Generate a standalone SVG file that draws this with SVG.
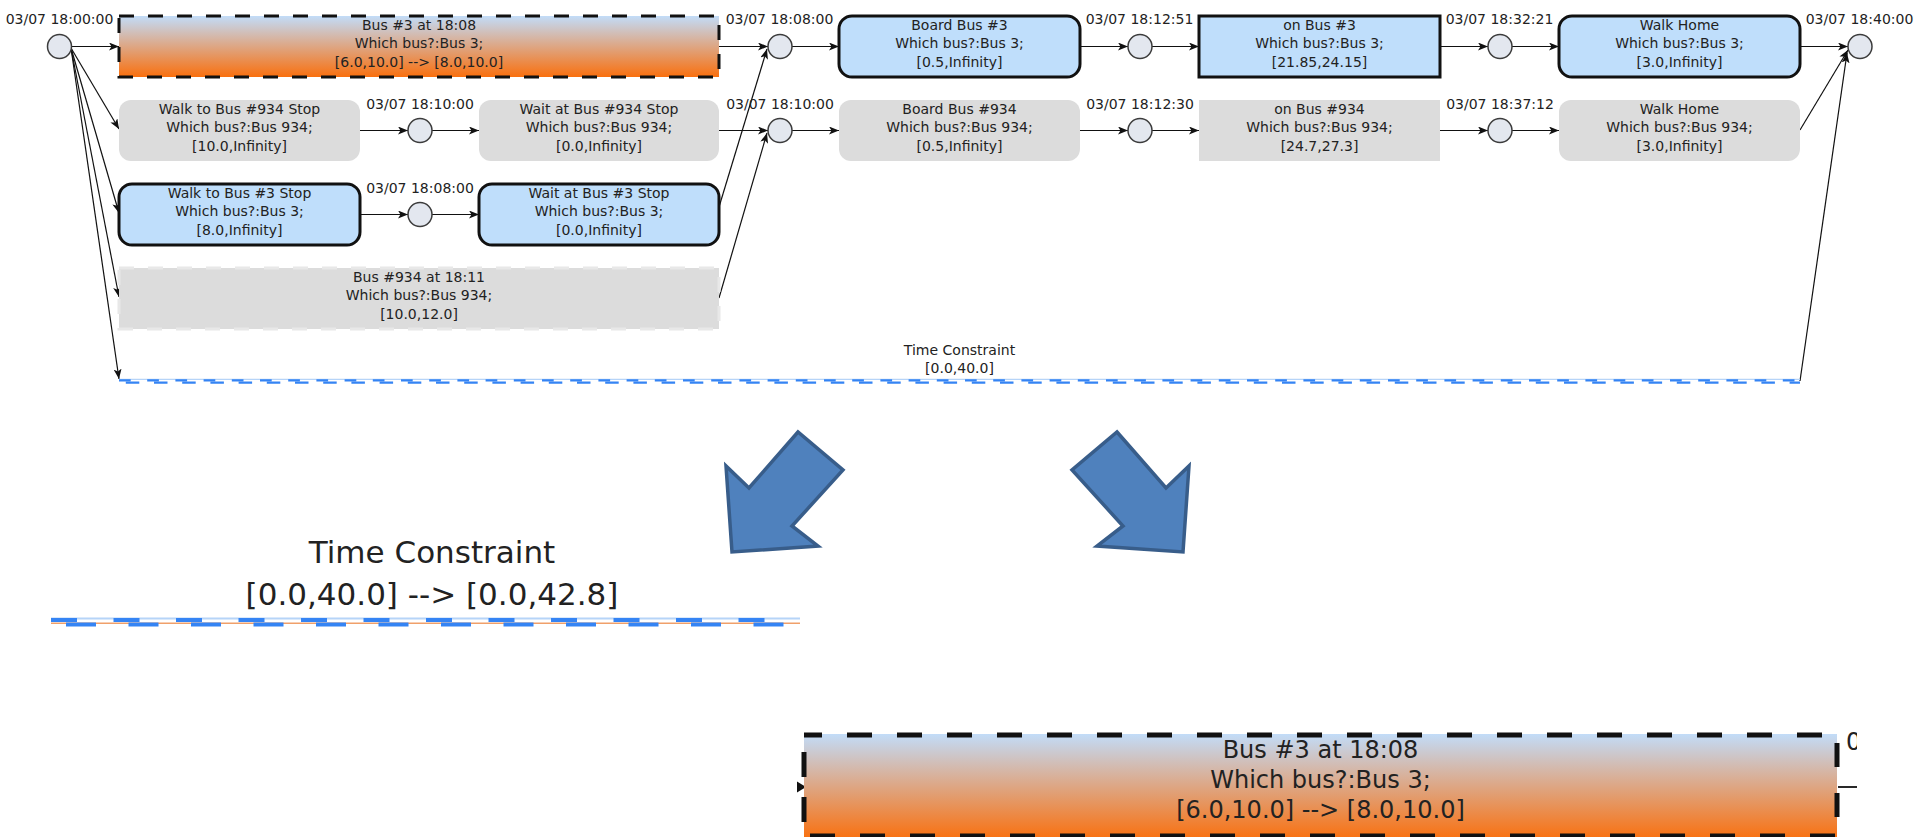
<svg xmlns="http://www.w3.org/2000/svg" width="1915" height="837" viewBox="0 0 1915 837">
<style>
text{font-family:"DejaVu Sans","Liberation Sans",sans-serif;fill:#222;text-anchor:middle}
.t14{font-size:14px}
.blue{fill:#bfdefb;stroke:#111;stroke-width:3}
.grey{fill:#dcdcdc}
.ev{fill:#e3e7ef;stroke:#3c3c3c;stroke-width:1.5}
.conn line{stroke:#111;stroke-width:1.2;marker-end:url(#arr)}
.big{fill:#4f81bd;stroke:#385d8a;stroke-width:3.5;stroke-linejoin:miter}
.dashB{stroke:#3584f4;fill:none}
.edge{stroke:#111;stroke-width:5;fill:none;stroke-dasharray:25 25}
</style>
<defs>
  <linearGradient id="busGrad" x1="0" y1="0" x2="0" y2="1">
    <stop offset="0" stop-color="#c2dcf8"/>
    <stop offset="1" stop-color="#f9700f"/>
  </linearGradient>
  <marker id="arr" markerUnits="userSpaceOnUse" viewBox="0 0 10 8" refX="10" refY="4" markerWidth="10" markerHeight="8" orient="auto">
    <path d="M0,0 L10,4 L0,8 L2.5,4 z" fill="#111"/>
  </marker>
  <clipPath id="cutRight"><rect x="1840" y="720" width="17" height="40"/></clipPath>
  <path id="bigArrow" d="M1117,432 L1166,488 L1189,466 L1183,552 L1097,546 L1123,526 L1072,470 Z"/>
</defs>
<rect width="1915" height="837" fill="#fff"/>

<!-- connectors -->
<g id="connectors" class="conn">
  <line x1="71.5" y1="46.5" x2="119" y2="46.5"/>
  <line x1="719" y1="46.5" x2="768" y2="46.5"/>
  <line x1="792" y1="46.5" x2="839" y2="46.5"/>
  <line x1="1080" y1="46.5" x2="1128" y2="46.5"/>
  <line x1="1152" y1="46.5" x2="1199" y2="46.5"/>
  <line x1="1440" y1="46.5" x2="1488" y2="46.5"/>
  <line x1="1512" y1="46.5" x2="1559" y2="46.5"/>
  <line x1="1800" y1="46.5" x2="1848" y2="46.5"/>

  <line x1="71" y1="48" x2="119" y2="129"/>
  <line x1="360" y1="130.5" x2="408" y2="130.5"/>
  <line x1="432" y1="130.5" x2="479" y2="130.5"/>
  <line x1="719" y1="130.5" x2="768" y2="130.5"/>
  <line x1="792" y1="130.5" x2="839" y2="130.5"/>
  <line x1="1080" y1="130.5" x2="1128" y2="130.5"/>
  <line x1="1152" y1="130.5" x2="1199" y2="130.5"/>
  <line x1="1440" y1="130.5" x2="1488" y2="130.5"/>
  <line x1="1512" y1="130.5" x2="1559" y2="130.5"/>
  <line x1="1800" y1="130" x2="1848" y2="50"/>

  <line x1="71" y1="48" x2="119" y2="213"/>
  <line x1="360" y1="214.5" x2="408" y2="214.5"/>
  <line x1="432" y1="214.5" x2="479" y2="214.5"/>
  <line x1="719" y1="207" x2="767" y2="49"/>

  <line x1="71" y1="48" x2="119" y2="297"/>
  <line x1="719" y1="298" x2="767" y2="133"/>

  <line x1="71" y1="48" x2="119" y2="379"/>
  <line x1="1800" y1="381" x2="1847" y2="53"/>

  <!-- connector stubs at the enlarged box -->
  <polygon points="797,781.5 806,787 797,792.5" fill="#111"/>
  <path d="M1838,787 H1857" stroke="#111" stroke-width="1.8"/>
</g>

<!-- events -->
<g id="ev-start"><circle class="ev" cx="59.5" cy="46.5" r="12"/><text class="t14" x="59.5" y="24">03/07 18:00:00</text></g>
<g id="ev-1808-a"><circle class="ev" cx="780" cy="46.5" r="12"/><text class="t14" x="779.5" y="24">03/07 18:08:00</text></g>
<g id="ev-1812-51"><circle class="ev" cx="1140" cy="46.5" r="12"/><text class="t14" x="1139.5" y="24">03/07 18:12:51</text></g>
<g id="ev-1832-21"><circle class="ev" cx="1500" cy="46.5" r="12"/><text class="t14" x="1499.5" y="24">03/07 18:32:21</text></g>
<g id="ev-end"><circle class="ev" cx="1860" cy="46.5" r="12"/><text class="t14" x="1859.5" y="24">03/07 18:40:00</text></g>
<g id="ev-1810-a"><circle class="ev" cx="420" cy="130.5" r="12"/><text class="t14" x="420" y="109">03/07 18:10:00</text></g>
<g id="ev-1810-b"><circle class="ev" cx="780" cy="130.5" r="12"/><text class="t14" x="780" y="109">03/07 18:10:00</text></g>
<g id="ev-1812-30"><circle class="ev" cx="1140" cy="130.5" r="12"/><text class="t14" x="1140" y="109">03/07 18:12:30</text></g>
<g id="ev-1837-12"><circle class="ev" cx="1500" cy="130.5" r="12"/><text class="t14" x="1500" y="109">03/07 18:37:12</text></g>
<g id="ev-1808-b"><circle class="ev" cx="420" cy="214.5" r="12"/><text class="t14" x="420" y="193">03/07 18:08:00</text></g>

<!-- activities, bus 3 route -->
<g id="bus3-at-1808">
  <rect x="119" y="16" width="600" height="61" fill="url(#busGrad)" stroke="#111" stroke-width="3" stroke-dasharray="15 14"/>
  <text class="t14" x="419" y="30">Bus #3 at 18:08</text>
  <text class="t14" x="419" y="48">Which bus?:Bus 3;</text>
  <text class="t14" x="419" y="67">[6.0,10.0] --&gt; [8.0,10.0]</text>
</g>
<g id="board-bus3">
  <rect class="blue" x="839" y="16" width="241" height="61" rx="13"/>
  <text class="t14" x="959.5" y="30">Board Bus #3</text>
  <text class="t14" x="959.5" y="48">Which bus?:Bus 3;</text>
  <text class="t14" x="959.5" y="67">[0.5,Infinity]</text>
</g>
<g id="on-bus3">
  <rect class="blue" x="1199" y="16" width="241" height="61"/>
  <text class="t14" x="1319.5" y="30">on Bus #3</text>
  <text class="t14" x="1319.5" y="48">Which bus?:Bus 3;</text>
  <text class="t14" x="1319.5" y="67">[21.85,24.15]</text>
</g>
<g id="walk-home-3">
  <rect class="blue" x="1559" y="16" width="241" height="61" rx="13"/>
  <text class="t14" x="1679.5" y="30">Walk Home</text>
  <text class="t14" x="1679.5" y="48">Which bus?:Bus 3;</text>
  <text class="t14" x="1679.5" y="67">[3.0,Infinity]</text>
</g>
<g id="walk-to-3">
  <rect class="blue" x="119" y="184" width="241" height="61" rx="13"/>
  <text class="t14" x="239.5" y="198">Walk to Bus #3 Stop</text>
  <text class="t14" x="239.5" y="216">Which bus?:Bus 3;</text>
  <text class="t14" x="239.5" y="235">[8.0,Infinity]</text>
</g>
<g id="wait-3">
  <rect class="blue" x="479" y="184" width="240" height="61" rx="13"/>
  <text class="t14" x="599" y="198">Wait at Bus #3 Stop</text>
  <text class="t14" x="599" y="216">Which bus?:Bus 3;</text>
  <text class="t14" x="599" y="235">[0.0,Infinity]</text>
</g>

<!-- activities, bus 934 route -->
<g id="walk-to-934">
  <rect class="grey" x="119" y="100" width="241" height="61" rx="12"/>
  <text class="t14" x="239.5" y="114">Walk to Bus #934 Stop</text>
  <text class="t14" x="239.5" y="132">Which bus?:Bus 934;</text>
  <text class="t14" x="239.5" y="151">[10.0,Infinity]</text>
</g>
<g id="wait-934">
  <rect class="grey" x="479" y="100" width="240" height="61" rx="12"/>
  <text class="t14" x="599" y="114">Wait at Bus #934 Stop</text>
  <text class="t14" x="599" y="132">Which bus?:Bus 934;</text>
  <text class="t14" x="599" y="151">[0.0,Infinity]</text>
</g>
<g id="board-934">
  <rect class="grey" x="839" y="100" width="241" height="61" rx="12"/>
  <text class="t14" x="959.5" y="114">Board Bus #934</text>
  <text class="t14" x="959.5" y="132">Which bus?:Bus 934;</text>
  <text class="t14" x="959.5" y="151">[0.5,Infinity]</text>
</g>
<g id="on-934">
  <rect class="grey" x="1199" y="100" width="241" height="61"/>
  <text class="t14" x="1319.5" y="114">on Bus #934</text>
  <text class="t14" x="1319.5" y="132">Which bus?:Bus 934;</text>
  <text class="t14" x="1319.5" y="151">[24.7,27.3]</text>
</g>
<g id="walk-home-934">
  <rect class="grey" x="1559" y="100" width="241" height="61" rx="12"/>
  <text class="t14" x="1679.5" y="114">Walk Home</text>
  <text class="t14" x="1679.5" y="132">Which bus?:Bus 934;</text>
  <text class="t14" x="1679.5" y="151">[3.0,Infinity]</text>
</g>
<g id="bus934-at-1811">
  <rect x="119" y="268" width="600" height="61" fill="#dcdcdc" stroke="#e8e8e8" stroke-width="3" stroke-dasharray="15 14"/>
  <text class="t14" x="419" y="282">Bus #934 at 18:11</text>
  <text class="t14" x="419" y="300">Which bus?:Bus 934;</text>
  <text class="t14" x="419" y="319">[10.0,12.0]</text>
</g>

<!-- overall time constraint -->
<g id="time-constraint">
  <text class="t14" x="959.5" y="355">Time Constraint</text>
  <text class="t14" x="959.5" y="373">[0.0,40.0]</text>
  <line x1="119" y1="379.4" x2="1800" y2="379.4" stroke="#b6d4f8" stroke-width="1.2"/>
  <line class="dashB" x1="119" y1="380.4" x2="1800" y2="380.4" stroke-width="2.4" stroke-dasharray="11.7 16.5"/>
  <line class="dashB" x1="119" y1="382.6" x2="1800" y2="382.6" stroke-width="2.4" stroke-dasharray="13.5 14.7" stroke-dashoffset="21.4"/>
</g>

<!-- block arrows -->
<g id="arrow-left"><use href="#bigArrow" class="big" transform="translate(1915,0) scale(-1,1)"/></g>
<g id="arrow-right"><use href="#bigArrow" class="big"/></g>

<!-- enlarged time constraint -->
<g id="time-constraint-detail">
  <text x="432" y="563" font-size="31">Time Constraint</text>
  <text x="432" y="605" font-size="31">[0.0,40.0] --&gt; [0.0,42.8]</text>
  <line x1="51" y1="618.5" x2="800" y2="618.5" stroke="#b6d4f8" stroke-width="2"/>
  <line x1="51" y1="623.3" x2="800" y2="623.3" stroke="#f0a06a" stroke-width="1.6"/>
  <line class="dashB" x1="51" y1="620" x2="800" y2="620" stroke-width="4" stroke-dasharray="26 36.5"/>
  <line class="dashB" x1="51" y1="624.5" x2="800" y2="624.5" stroke-width="4" stroke-dasharray="30 32.5" stroke-dashoffset="47.5"/>
</g>

<!-- enlarged bus 3 activity -->
<g id="bus3-detail">
  <rect x="804" y="734" width="1033" height="105" fill="url(#busGrad)"/>
  <line class="edge" x1="804" y1="735" x2="1837" y2="735" stroke-dashoffset="7"/>
  <line class="edge" x1="804" y1="836" x2="1837" y2="836" stroke-dashoffset="44"/>
  <line class="edge" x1="804" y1="734" x2="804" y2="837" style="stroke-dasharray:25 20" stroke-dashoffset="27"/>
  <line class="edge" x1="1837" y1="734" x2="1837" y2="837" style="stroke-dasharray:24 26" stroke-dashoffset="41"/>
  <text x="1320.5" y="758" font-size="24">Bus #3 at 18:08</text>
  <text x="1320.5" y="788" font-size="24">Which bus?:Bus 3;</text>
  <text x="1320.5" y="818" font-size="24">[6.0,10.0] --&gt; [8.0,10.0]</text>
  <text x="1846" y="750" font-size="24" style="text-anchor:start" clip-path="url(#cutRight)">0</text>
</g>
</svg>
